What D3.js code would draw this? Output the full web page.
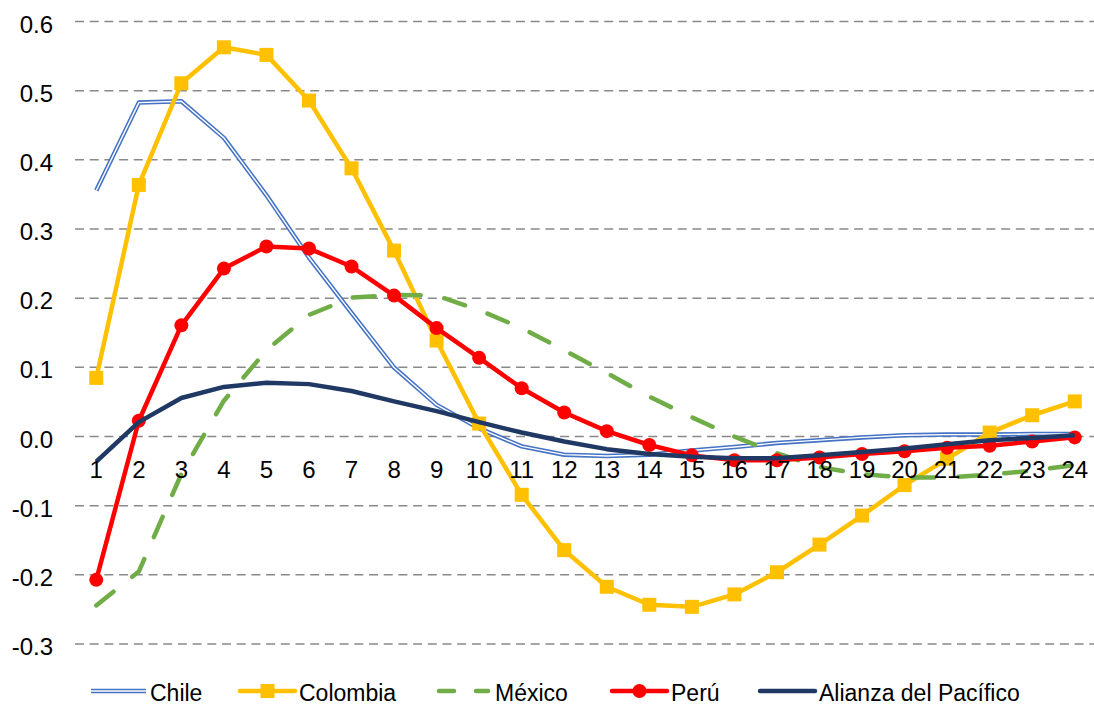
<!DOCTYPE html>
<html>
<head>
<meta charset="utf-8">
<script src="https://cdn.jsdelivr.net/npm/d3@7"></script>
<style>
  html, body { margin: 0; padding: 0; background: #fff; }
  svg { display: block; font-family: "Liberation Sans", Arial, sans-serif; }
</style>
</head>
<body>
<svg id="chart" width="1094" height="706"></svg>
<script>
// ---- data ----
const periods  = ['1','2','3','4','5','6','7','8','9','10','11','12','13','14','15','16','17','18','19','20','21','22','23','24'];
const chile    = [0.355, 0.482, 0.484, 0.431, 0.348, 0.258, 0.178, 0.099, 0.045, 0.011, -0.015, -0.027, -0.029, -0.027, -0.021, -0.016, -0.010, -0.006, -0.002, 0.001, 0.002, 0.002, 0.003, 0.003];
const colombia = [0.084, 0.363, 0.510, 0.562, 0.551, 0.485, 0.387, 0.268, 0.138, 0.018, -0.085, -0.165, -0.218, -0.244, -0.247, -0.229, -0.197, -0.157, -0.115, -0.071, -0.033, 0.005, 0.030, 0.050];
const mexico   = [-0.245, -0.196, -0.055, 0.051, 0.124, 0.175, 0.200, 0.204, 0.203, 0.182, 0.156, 0.124, 0.091, 0.057, 0.027, -0.001, -0.025, -0.045, -0.055, -0.060, -0.060, -0.056, -0.050, -0.042];
const peru     = [-0.208, 0.022, 0.160, 0.242, 0.274, 0.271, 0.245, 0.203, 0.156, 0.113, 0.069, 0.034, 0.007, -0.013, -0.028, -0.035, -0.035, -0.031, -0.026, -0.022, -0.017, -0.014, -0.008, -0.002];
const alianza  = [-0.037, 0.020, 0.055, 0.071, 0.077, 0.075, 0.065, 0.050, 0.036, 0.020, 0.005, -0.008, -0.019, -0.026, -0.030, -0.032, -0.032, -0.028, -0.023, -0.018, -0.012, -0.006, -0.003, 0.001];

const yTicks      = [-0.3, -0.2, -0.1, 0.0, 0.1, 0.2, 0.3, 0.4, 0.5, 0.6];
const yTickLabels = ['-0.3', '-0.2', '-0.1', '0.0', '0.1', '0.2', '0.3', '0.4', '0.5', '0.6'];
const seriesNames = ['Chile', 'Colombia', 'México', 'Perú', 'Alianza del Pacífico'];

// ---- layout ----
const plotL = 75, plotR = 1096, plotT = 21, plotB = 643.5;
const FONT = 24;

const svg = d3.select('#chart');

const x = d3.scaleBand().domain(periods).range([plotL, plotR]);
const y = d3.scaleLinear().domain([-0.3, 0.6]).range([plotB, plotT]);
const cx = (_, i) => x(periods[i]) + x.bandwidth() / 2;

/* gridlines */
const grid = svg.append('g')
  .attr('transform', `translate(${plotL},0)`)
  .call(d3.axisLeft(y).tickValues(yTicks).tickSize(-(plotR - plotL)).tickFormat(''));
grid.select('.domain').remove();
grid.selectAll('.tick line')
  .attr('stroke', '#898989')
  .attr('stroke-width', 1.5)
  .attr('stroke-dasharray', '9,5.7');

/* series */
const series = [
  { name: seriesNames[0], values: chile,    color: '#4472C4' },
  { name: seriesNames[1], values: colombia, color: '#FFC000', marker: 'square' },
  { name: seriesNames[2], values: mexico,   color: '#70AD47', dash: '22,24' },
  { name: seriesNames[3], values: peru,     color: '#FF0000', marker: 'circle' },
  { name: seriesNames[4], values: alianza,  color: '#203864' }
];

const line = d3.line().x(cx).y(d => y(d));

const plot = svg.append('g');
series.forEach((s, k) => {
  const g = plot.append('g');
  if (k === 0) {
    // double line: blue with a white core
    g.append('path').attr('d', line(s.values)).attr('fill', 'none')
      .attr('stroke', s.color).attr('stroke-width', 4.5).attr('stroke-linejoin', 'round');
    g.append('path').attr('d', line(s.values)).attr('fill', 'none')
      .attr('stroke', '#fff').attr('stroke-width', 1.4).attr('stroke-linejoin', 'round');
    return;
  }
  g.append('path').attr('d', line(s.values)).attr('fill', 'none')
    .attr('stroke', s.color).attr('stroke-width', 4.5)
    .attr('stroke-linejoin', 'round')
    .attr('stroke-linecap', s.dash ? 'round' : 'butt')
    .attr('stroke-dasharray', s.dash || null);
  if (s.marker === 'square') {
    g.selectAll('rect').data(s.values).join('rect')
      .attr('x', (d, i) => cx(d, i) - 7).attr('y', d => y(d) - 7)
      .attr('width', 14).attr('height', 14).attr('fill', s.color);
  } else if (s.marker === 'circle') {
    g.selectAll('circle').data(s.values).join('circle')
      .attr('cx', cx).attr('cy', d => y(d)).attr('r', 7).attr('fill', s.color);
  }
});

/* y labels */
const yAxis = svg.append('g')
  .attr('transform', `translate(${plotL},0)`)
  .call(d3.axisLeft(y).tickValues(yTicks).tickSize(0).tickPadding(22)
    .tickFormat((d, i) => yTickLabels[i]));
yAxis.select('.domain').remove();
yAxis.selectAll('text').attr('font-size', FONT).attr('font-family', 'Liberation Sans, Arial, sans-serif')
  .attr('fill', '#000').attr('dy', '0.46em');

/* x labels at the zero line */
const xAxis = svg.append('g')
  .attr('transform', `translate(0,${y(0)})`)
  .call(d3.axisBottom(x).tickSize(0).tickPadding(25));
xAxis.select('.domain').remove();
xAxis.selectAll('text').attr('font-size', FONT).attr('font-family', 'Liberation Sans, Arial, sans-serif')
  .attr('fill', '#000');

/* legend */
const legendX = [91, 240, 436, 612, 760];
const legY = 691;
const leg = svg.append('g');
series.forEach((s, k) => {
  const x0 = legendX[k], x1 = x0 + 55;
  const g = leg.append('g');
  if (k === 0) {
    g.append('line').attr('x1', x0).attr('x2', x1).attr('y1', legY).attr('y2', legY)
      .attr('stroke', s.color).attr('stroke-width', 4.5);
    g.append('line').attr('x1', x0).attr('x2', x1).attr('y1', legY).attr('y2', legY)
      .attr('stroke', '#fff').attr('stroke-width', 1.4);
  } else {
    g.append('line').attr('x1', s.dash ? x0 + 3 : x0).attr('x2', s.dash ? x1 - 3 : x1)
      .attr('y1', legY).attr('y2', legY)
      .attr('stroke', s.color).attr('stroke-width', 4.5)
      .attr('stroke-linecap', 'round')
      .attr('stroke-dasharray', s.dash ? '15,22' : null);
  }
  const mx = (x0 + x1) / 2;
  if (s.marker === 'square') {
    g.append('rect').attr('x', mx - 7).attr('y', legY - 7).attr('width', 14).attr('height', 14).attr('fill', s.color);
  } else if (s.marker === 'circle') {
    g.append('circle').attr('cx', mx).attr('cy', legY).attr('r', 7).attr('fill', s.color);
  }
  g.append('text').attr('x', x1 + 4).attr('y', 700.5)
    .attr('font-size', 23).attr('fill', '#000').text(s.name);
});
</script>
</body>
</html>
